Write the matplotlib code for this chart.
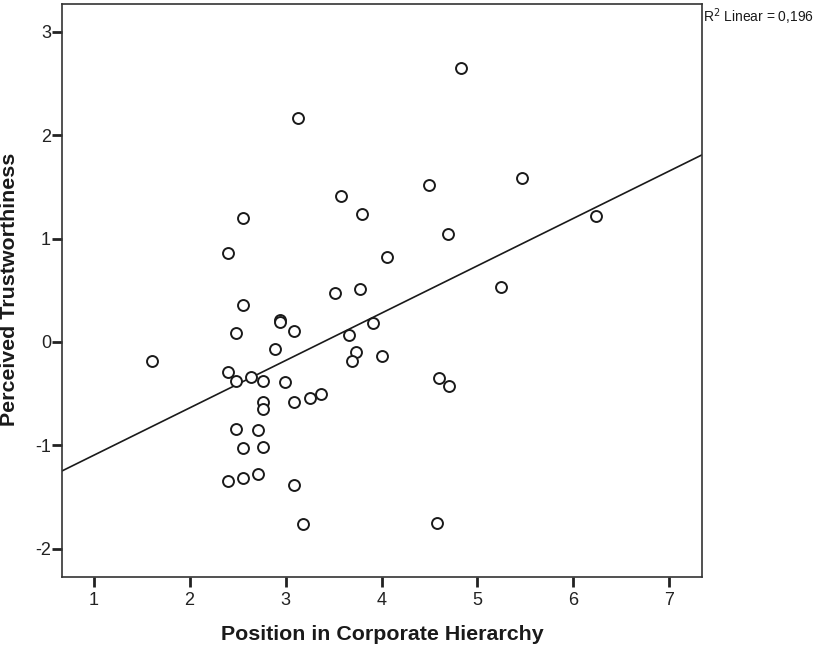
import matplotlib
matplotlib.use("Agg")
import matplotlib.pyplot as plt
import numpy as np

plt.rcParams['font.family'] = ['Liberation Sans', 'DejaVu Sans']
plt.rcParams['axes.unicode_minus'] = False

position = [4.83, 3.13, 4.50, 5.46, 3.58, 3.80, 2.56, 6.235, 4.69, 2.40,
            4.06, 5.25, 3.52, 3.78, 2.56, 2.94, 2.94, 3.09, 2.48, 3.91,
            3.66, 1.607, 2.89, 3.735, 3.69, 4.00, 2.40, 2.48, 2.635, 2.77,
            2.99, 2.77, 2.77, 3.09, 3.256, 3.37, 2.48, 2.71, 2.56, 2.77,
            2.40, 2.56, 2.71, 3.09, 3.18, 4.58, 4.60, 4.70]
trust = [2.65, 2.17, 1.52, 1.59, 1.41, 1.24, 1.20, 1.22, 1.04, 0.86,
         0.82, 0.535, 0.47, 0.51, 0.36, 0.21, 0.19, 0.106, 0.09, 0.184,
         0.068, -0.184, -0.065, -0.10, -0.187, -0.136, -0.29, -0.374, -0.342, -0.377,
         -0.39, -0.584, -0.649, -0.584, -0.545, -0.507, -0.842, -0.855, -1.03, -1.016,
         -1.342, -1.317, -1.281, -1.384, -1.759, -1.752, -0.352, -0.423]

fit_slope = 0.4586
fit_intercept = -1.556
r2_text = "R$^2$ Linear = 0,196"

x_ticks = [1, 2, 3, 4, 5, 6, 7]
y_ticks = [-2, -1, 0, 1, 2, 3]
x_lim = (0.67, 7.34)
y_lim = (-2.275, 3.27)

fig = plt.figure(figsize=(8.15, 6.46), dpi=100)
ax = fig.add_axes([62/815, 1 - 577/646, (702-62)/815, (577-4)/646])

ax.scatter(position, trust, s=62, facecolors='white', edgecolors='#1a1a1a',
           linewidths=1.4, zorder=3)

xs = np.array(x_lim)
ax.plot(xs, fit_intercept + fit_slope * xs, color='#1a1a1a', lw=1.2, zorder=2)

ax.set_xlim(*x_lim)
ax.set_ylim(*y_lim)
ax.set_xticks(x_ticks)
ax.set_yticks(y_ticks)
ax.tick_params(axis='both', direction='out', length=7.5, width=2, colors='#222222',
               labelsize=13, labelcolor='#222222')
ax.tick_params(axis='x', pad=3.5)
ax.tick_params(axis='y', pad=0.5)
for s in ax.spines.values():
    s.set_color('#333333')
    s.set_linewidth(1.2)

ax.set_xlabel("Position in Corporate Hierarchy", fontsize=15.4, fontweight='bold',
              color='#1a1a1a', labelpad=11)
fig.text(9.5/815, 1 - 289/646, "Perceived Trustworthiness", fontsize=15.4,
         fontweight='bold', color='#1a1a1a', rotation=90, ha='center', va='center')

fig.text(703/815, 1 - 17/646, r2_text, fontsize=10, color='#1a1a1a',
         ha='left', va='center')

fig.savefig("out.png", dpi=100, facecolor='white')
